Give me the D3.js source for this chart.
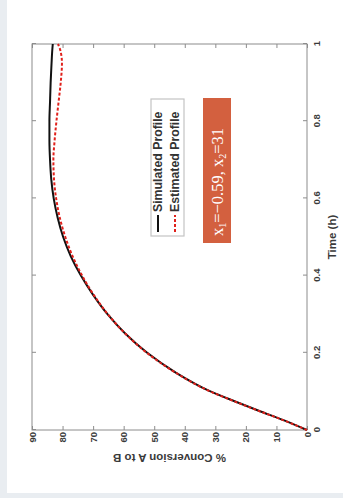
<!DOCTYPE html>
<html>
<head>
<meta charset="utf-8">
<script src="https://cdn.jsdelivr.net/npm/d3@7"></script>
<style>
  html, body { margin: 0; padding: 0; background: #e9edf1; }
  svg { display: block; }
</style>
</head>
<body>
<svg id="chart" width="343" height="498"></svg>
<script>
// ---- data ----
const time      = [0, 0.025, 0.05, 0.075, 0.1, 0.15, 0.2, 0.25, 0.3, 0.35, 0.4, 0.45, 0.5, 0.55, 0.6, 0.65, 0.7, 0.75, 0.8, 0.85, 0.9, 0.95, 0.98, 1.0];
const simulated = [0, 7.5, 15.8, 23.9, 31.6, 43.2, 52.3, 59.5, 65.3, 70.0, 74.0, 77.3, 79.8, 81.6, 82.9, 83.7, 84.1, 84.3, 84.3, 84.1, 83.9, 83.6, 83.4, 83.2];
const estimated = [0, 7.6, 15.9, 24.0, 31.7, 43.3, 52.4, 59.5, 65.2, 69.8, 73.6, 76.7, 79.1, 80.9, 82.1, 82.8, 83.0, 82.6, 82.0, 81.3, 80.6, 80.2, 80.6, 81.5];
const timeTicks  = [0, 0.2, 0.4, 0.6, 0.8, 1];
const timeLabels = ["0", "0.2", "0.4", "0.6", "0.8", "1"];
const convTicks  = [0, 10, 20, 30, 40, 50, 60, 70, 80, 90];
const convLabels = ["0", "10", "20", "30", "40", "50", "60", "70", "80", "90"];
const seriesNames = ["Simulated Profile", "Estimated Profile"];

// ---- layout ----
const svg = d3.select("#chart");
svg.append("rect").attr("x", 7).attr("y", 0).attr("width", 336).attr("height", 493).attr("fill", "#ffffff");

const W = 386, H = 275;
const g = svg.append("g").attr("transform", "translate(32,430) rotate(-90)");

const x = d3.scaleLinear().domain([0, 1]).range([0, W]);
const y = d3.scaleLinear().domain([0, 90]).range([H, 0]);

const axisColor = "#8c8c8c", textColor = "#3a3a3a";
const font = "'Liberation Sans', Arial, sans-serif";

// axes with inward ticks
const xb = g.append("g").attr("transform", `translate(0,${H})`)
  .call(d3.axisBottom(x).tickValues(timeTicks).tickFormat((d, i) => timeLabels[i]).tickSizeInner(-4).tickSizeOuter(0).tickPadding(6));
const xt = g.append("g")
  .call(d3.axisTop(x).tickValues(timeTicks).tickFormat("").tickSizeInner(-4).tickSizeOuter(0));
const yl = g.append("g")
  .call(d3.axisLeft(y).tickValues(convTicks).tickFormat((d, i) => convLabels[i]).tickSizeInner(-4).tickSizeOuter(0).tickPadding(2));
const yr = g.append("g").attr("transform", `translate(${W},0)`)
  .call(d3.axisRight(y).tickValues(convTicks).tickFormat("").tickSizeInner(-4).tickSizeOuter(0));

[xb, xt, yl, yr].forEach(a => {
  a.select(".domain").remove();
  a.selectAll(".tick line").attr("stroke", axisColor);
  a.selectAll(".tick text").attr("fill", textColor).attr("font-family", font).attr("font-weight", "bold").attr("font-size", 9.5);
});

g.append("rect").attr("x", 0).attr("y", 0).attr("width", W).attr("height", H)
  .attr("fill", "none").attr("stroke", axisColor).attr("stroke-width", 1);

// axis titles
g.append("text").attr("x", W / 2).attr("y", H + 29).attr("text-anchor", "middle")
  .attr("font-family", font).attr("font-weight", "bold").attr("font-size", 11.5).attr("fill", textColor)
  .text("Time (h)");
g.append("text").attr("transform", `translate(-24,${H / 2}) rotate(-90)`).attr("text-anchor", "middle")
  .attr("font-family", font).attr("font-weight", "bold").attr("font-size", 11.5).attr("fill", textColor)
  .text("% Conversion A to B");

// lines
const line = vals => d3.line().x((d, i) => x(time[i])).y(d => y(d)).curve(d3.curveMonotoneX)(vals);
g.append("path").attr("d", line(simulated)).attr("fill", "none").attr("stroke", "#111").attr("stroke-width", 2);
g.append("path").attr("d", line(estimated)).attr("fill", "none").attr("stroke", "#e0201b").attr("stroke-width", 2).attr("stroke-dasharray", "3,2");

// legend
const lg = g.append("g").attr("transform", "translate(194,119)");
lg.append("rect").attr("width", 137).attr("height", 33).attr("fill", "#fff").attr("stroke", "#c4c4c4").attr("stroke-width", 1.2);
const legStyles = [{ c: "#111", dash: null }, { c: "#e0201b", dash: "3,2" }];
seriesNames.forEach((name, i) => {
  const yy = 7 + i * 17;
  lg.append("line").attr("x1", 4).attr("x2", 21).attr("y1", yy).attr("y2", yy)
    .attr("stroke", legStyles[i].c).attr("stroke-width", 2).attr("stroke-dasharray", legStyles[i].dash);
  lg.append("text").attr("x", 24).attr("y", yy).attr("dy", "0.35em")
    .attr("font-family", font).attr("font-weight", "bold").attr("font-size", 12.3).attr("fill", "#333")
    .text(name);
});

// annotation box
const ab = g.append("g").attr("transform", "translate(187,171)");
ab.append("rect").attr("width", 145).attr("height", 28).attr("fill", "#d3603f");
const t = ab.append("text").attr("x", 7).attr("y", 14).attr("dy", "0.35em")
  .attr("font-family", "'Liberation Serif', 'DejaVu Serif', serif").attr("font-size", 16.5).attr("fill", "#fff");
t.append("tspan").text("x");
t.append("tspan").attr("font-size", 10).attr("dy", 3).text("1");
t.append("tspan").attr("dy", -3).text("=−0.59, x");
t.append("tspan").attr("font-size", 10).attr("dy", 3).text("2");
t.append("tspan").attr("dy", -3).text("=31");
</script>
</body>
</html>
